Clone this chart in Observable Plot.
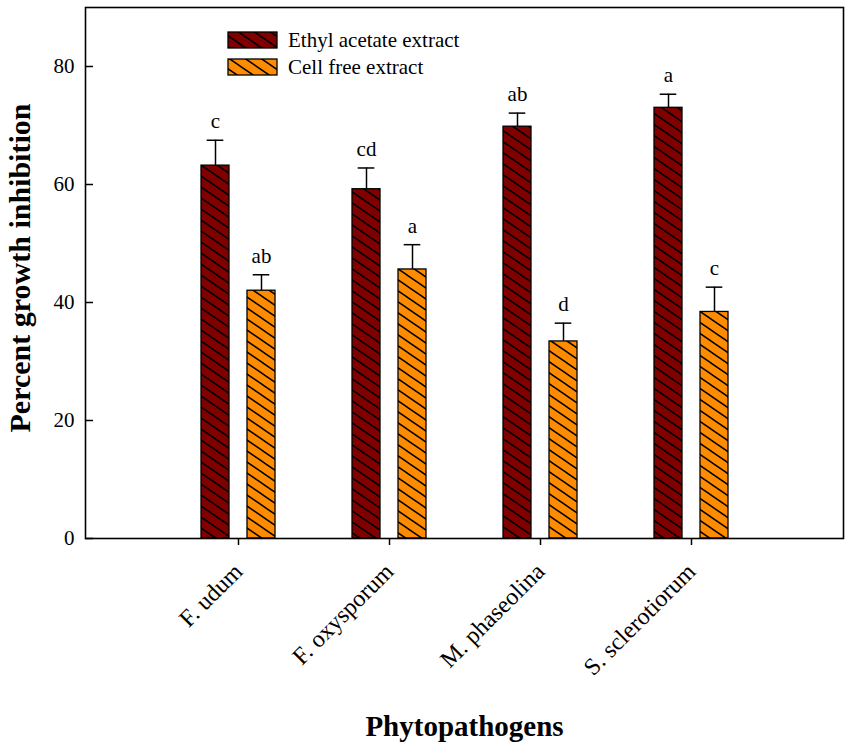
<!DOCTYPE html>
<html>
<head>
<meta charset="utf-8">
<script src="https://cdn.jsdelivr.net/npm/d3@7"></script>
<script src="https://cdn.jsdelivr.net/npm/@observablehq/plot@0.6"></script>
<style>
  html, body { margin: 0; padding: 0; background: #fff; }
  #chart svg { display: block; }
</style>
</head>
<body>
<div id="chart"></div>
<script>
// ---- data ----
const pathogens = ["F. udum", "F. oxysporum", "M. phaseolina", "S. sclerotiorum"];
const seriesNames = ["Ethyl acetate extract", "Cell free extract"];
const ethylMean = [63.2, 59.2, 69.8, 73.0];
const ethylErr = [4.3, 3.6, 2.3, 2.3];
const ethylLetters = ["c", "cd", "ab", "a"];
const cellMean = [42.0, 45.6, 33.4, 38.4];
const cellErr = [2.7, 4.2, 3.1, 4.2];
const cellLetters = ["ab", "a", "d", "c"];
const yTicks = [0, 20, 40, 60, 80];

// ---- styling ----
const colors = ["#800000", "#ff8c00"];
const offsets = [-23, 23];
const font = "'Liberation Serif', 'Times New Roman', serif";

const series = [
  pathogens.map((p, i) => ({pathogen: p, mean: ethylMean[i], err: ethylErr[i], top: ethylMean[i] + ethylErr[i], letter: ethylLetters[i]})),
  pathogens.map((p, i) => ({pathogen: p, mean: cellMean[i], err: cellErr[i], top: cellMean[i] + cellErr[i], letter: cellLetters[i]}))
];

const width = 851, height = 750;
const marginLeft = 85, marginRight = 8, marginTop = 7, marginBottom = 212;
const plotW = width - marginLeft - marginRight;

const marks = [];
series.forEach((data, s) => {
  marks.push(Plot.barY(data, {x: "pathogen", y: "mean", fill: colors[s], dx: offsets[s]}));
  marks.push(Plot.barY(data, {x: "pathogen", y: "mean", fill: "url(#hatch)", stroke: "black", strokeWidth: 1.3, dx: offsets[s]}));
  marks.push(Plot.ruleX(data, {x: "pathogen", y1: "mean", y2: "top", stroke: "black", strokeWidth: 1.5, dx: offsets[s]}));
  marks.push(Plot.tickY(data, {x: "pathogen", y: "top", stroke: "black", strokeWidth: 1.5, insetLeft: 5.7, insetRight: 5.7, dx: offsets[s]}));
  marks.push(Plot.text(data, {x: "pathogen", y: "top", text: "letter", dx: offsets[s], dy: -12, lineAnchor: "bottom", fontSize: 21, fill: "black"}));
});

const chart = Plot.plot({
  width, height, marginLeft, marginRight, marginTop, marginBottom,
  style: {fontFamily: font, fontSize: "21px", color: "black", background: "white"},
  x: {domain: pathogens, paddingInner: 0.816, paddingOuter: 0.908},
  y: {domain: [0, 90]},
  marks: [
    ...marks,
    Plot.tickY(yTicks, {y: d => d, stroke: "black", strokeWidth: 1.5, insetRight: plotW - 8}),
    Plot.axisY({ticks: yTicks, tickSize: 0, tickPadding: 11, fontSize: 21, label: null}),
    Plot.axisX({tickSize: 7, tickRotate: -45, tickPadding: 22, fontSize: 24, label: null, strokeWidth: 1.5}),
    Plot.frame({stroke: "black", strokeWidth: 1.6}),
    Plot.text(["Percent growth inhibition"], {frameAnchor: "left", textAnchor: "middle", dx: -65, dy: -5, rotate: -90, fontSize: 30, fontWeight: "bold", fill: "black"}),
    Plot.text(["Phytopathogens"], {frameAnchor: "bottom", dy: 197, fontSize: 29, fontWeight: "bold", fill: "black"})
  ]
});

// hatch pattern + legend
const svg = d3.select(chart);
const defs = svg.insert("defs", ":first-child");
const pat = defs.append("pattern")
  .attr("id", "hatch").attr("patternUnits", "userSpaceOnUse")
  .attr("width", 16).attr("height", 11);
pat.append("path")
  .attr("d", "M-4,-2.75 L20,13.75 M-20,-2.75 L4,13.75 M12,-2.75 L36,13.75")
  .attr("stroke", "black").attr("stroke-width", 1.5).attr("fill", "none");

const legend = svg.append("g").attr("class", "legend").attr("text-anchor", "start");
seriesNames.forEach((name, i) => {
  const y0 = 32 + i * 27;
  legend.append("rect").attr("x", 228).attr("y", y0).attr("width", 49).attr("height", 16)
    .attr("fill", colors[i]);
  legend.append("rect").attr("x", 228).attr("y", y0).attr("width", 49).attr("height", 16)
    .attr("fill", "url(#hatch)").attr("stroke", "black").attr("stroke-width", 1.3);
  legend.append("text").attr("x", 288).attr("y", y0 + 8).attr("dy", "0.35em")
    .attr("text-anchor", "start")
    .attr("font-size", 21).attr("font-family", font).attr("fill", "black").text(name);
});

document.getElementById("chart").appendChild(chart);
</script>
</body>
</html>
